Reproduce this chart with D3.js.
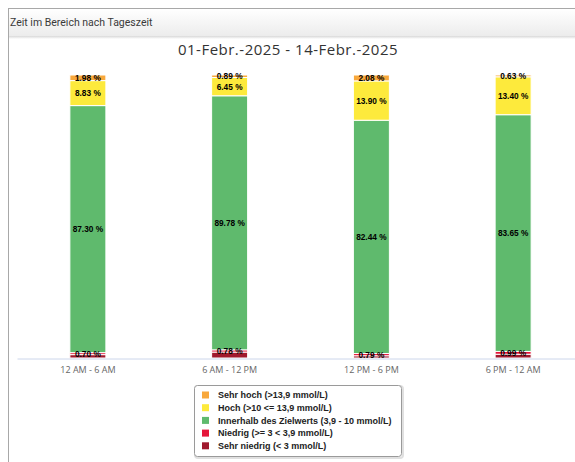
<!DOCTYPE html>
<html>
<head>
<meta charset="utf-8">
<script src="https://cdn.jsdelivr.net/npm/d3@7"></script>
<style>
  html, body { margin: 0; padding: 0; background: #fff; }
  svg { display: block; }
</style>
</head>
<body>
<svg id="chart" width="575" height="462"></svg>
<script>
// Time-in-range per part of day (percent of readings)
const periods = ["12 AM - 6 AM", "6 AM - 12 PM", "12 PM - 6 PM", "6 PM - 12 AM"];
const seriesNames = [
  "Sehr niedrig (< 3 mmol/L)",
  "Niedrig (>= 3 < 3,9 mmol/L)",
  "Innerhalb des Zielwerts (3,9 - 10 mmol/L)",
  "Hoch (>10 <= 13,9 mmol/L)",
  "Sehr hoch (>13,9 mmol/L)"
];
const sehrNiedrig = [1.19, 2.10, 0.79, 1.33];
const niedrig     = [0.70, 0.78, 0.79, 0.99];
const imZiel      = [87.30, 89.78, 82.44, 83.65];
const hoch        = [8.83, 6.45, 13.90, 13.40];
const sehrHoch    = [1.98, 0.89, 2.08, 0.63];
const colors = ["#a0192d", "#e5163a", "#5fba6d", "#fdea3c", "#f8a83c"];
// labels of the bottom series collide with the "Niedrig" labels and stay hidden
const showLabel = [false, true, true, true, true];
const yTicks = [0, 100];

const title = "01-Febr.-2025 - 14-Febr.-2025";
const header = "Zeit im Bereich nach Tageszeit";

const svg = d3.select("#chart");

// panel frame and header strip
const defs = svg.append("defs");
const grad = defs.append("linearGradient").attr("id", "hdr").attr("x1", 0).attr("y1", 0).attr("x2", 0).attr("y2", 1);
grad.append("stop").attr("offset", "0%").attr("stop-color", "#ffffff");
grad.append("stop").attr("offset", "100%").attr("stop-color", "#ececec");
const shadow = defs.append("linearGradient").attr("id", "shd").attr("x1", 0).attr("y1", 0).attr("x2", 0).attr("y2", 1);
shadow.append("stop").attr("offset", "0%").attr("stop-color", "#d8d8d8");
shadow.append("stop").attr("offset", "100%").attr("stop-color", "#ffffff");

svg.append("rect").attr("x", 8.5).attr("y", 8.5).attr("width", 600).attr("height", 500)
  .attr("fill", "#fff").attr("stroke", "#a8a8a8");
svg.append("rect").attr("x", 9).attr("y", 9).attr("width", 580).attr("height", 27).attr("fill", "url(#hdr)");
svg.append("rect").attr("x", 9).attr("y", 36).attr("width", 580).attr("height", 3).attr("fill", "url(#shd)");
svg.append("text").attr("x", 10).attr("y", 26)
  .attr("font-family", "Roboto, 'Open Sans', sans-serif").attr("font-size", 10.5)
  .attr("fill", "#3a3a3a").text(header);

svg.append("text").attr("x", 288).attr("y", 55).attr("text-anchor", "middle")
  .attr("font-family", "'Open Sans', sans-serif").attr("font-size", 15).attr("letter-spacing", 0.5)
  .attr("fill", "#333").text(title);

// plot area
const plot = { left: 17, right: 584, top: 75, bottom: 358 };
const x = d3.scaleBand().domain(periods).range([plot.left, plot.right])
  .paddingInner(0.746).paddingOuter(0.373);
const y = d3.scaleLinear().domain(d3.extent(yTicks)).range([plot.bottom, plot.top]);

const table = periods.map((p, i) => ({
  period: p,
  s0: sehrNiedrig[i], s1: niedrig[i], s2: imZiel[i], s3: hoch[i], s4: sehrHoch[i]
}));
const stack = d3.stack().keys(["s0", "s1", "s2", "s3", "s4"]);
const layers = stack(table);

const g = svg.append("g");
layers.forEach((layer, li) => {
  g.selectAll(null).data(layer).enter().append("rect")
    .attr("x", d => x(d.data.period))
    .attr("y", d => y(d[1]))
    .attr("width", x.bandwidth())
    .attr("height", d => Math.max(0, y(d[0]) - y(d[1])))
    .attr("fill", colors[li])
    .attr("stroke", "#fff").attr("stroke-width", 1);
});

// value labels
layers.forEach((layer, li) => {
  if (!showLabel[li]) return;
  g.selectAll(null).data(layer).enter().append("text")
    .attr("x", d => x(d.data.period) + x.bandwidth() / 2)
    .attr("y", d => (y(d[0]) + y(d[1])) / 2 + 3)
    .attr("text-anchor", "middle")
    .attr("font-family", "'Liberation Sans', Arial, sans-serif")
    .attr("font-weight", "bold").attr("font-size", 8.3)
    .attr("fill", "#000")
    .text(d => (d[1] - d[0]).toFixed(2) + " %");
});

// x axis
const xAxis = d3.axisBottom(x).tickSize(0).tickPadding(8);
const ax = svg.append("g").attr("transform", `translate(0,${plot.bottom + 0.5})`).call(xAxis);
ax.select(".domain").attr("stroke", "#ccd6eb");
ax.selectAll("text").attr("font-family", "'Open Sans', sans-serif").attr("font-size", 9)
  .attr("fill", "#666");

// legend
const lg = svg.append("g").attr("transform", "translate(194,385)");
lg.append("rect").attr("x", 1).attr("y", 1).attr("width", 208).attr("height", 72).attr("rx", 3)
  .attr("fill", "none").attr("stroke", "#e0e0e0").attr("stroke-width", 2);
lg.append("rect").attr("x", 0.5).attr("y", 0.5).attr("width", 207).attr("height", 71).attr("rx", 3)
  .attr("fill", "#fff").attr("stroke", "#9a9a9a");
const order = [4, 3, 2, 1, 0];
order.forEach((si, k) => {
  const yy = 10 + k * 12.7;
  lg.append("rect").attr("x", 8).attr("y", yy - 3.5).attr("width", 7).attr("height", 7).attr("fill", colors[si]);
  lg.append("text").attr("x", 24).attr("y", yy + 3.2)
    .attr("font-family", "'Liberation Sans', Arial, sans-serif").attr("font-weight", "bold")
    .attr("font-size", 9).attr("fill", "#222").text(seriesNames[si]);
});
</script>
</body>
</html>
